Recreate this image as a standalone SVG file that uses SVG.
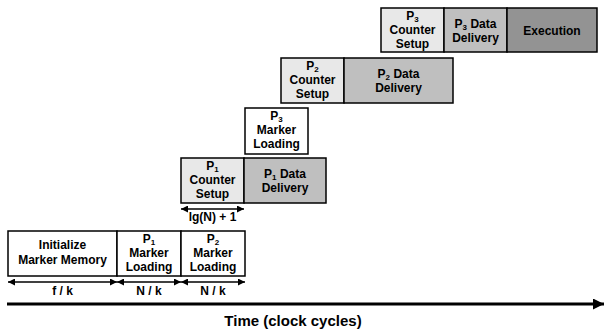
<svg xmlns="http://www.w3.org/2000/svg" width="605" height="331" viewBox="0 0 605 331">
<defs>
<style>
text{font-family:"Liberation Sans",Arial,sans-serif;font-weight:bold;font-size:12px;fill:#000;text-anchor:middle}
.b{stroke:#000;stroke-width:1.5}
.w{fill:#fff}.l{fill:#e8e8e8}.m{fill:#bfbfbf}.d{fill:#939393}
.s{font-size:8px}
.c{stroke:#000;stroke-width:1.6;fill:none}
</style>
<marker id="ah" viewBox="0 0 10 10" refX="10" refY="5" markerWidth="11" markerHeight="7" markerUnits="userSpaceOnUse" orient="auto-start-reverse"><path d="M0,0L10,5L0,10z" fill="#000"/></marker>
<marker id="big" viewBox="0 0 10 10" refX="10" refY="5" markerWidth="15" markerHeight="11" markerUnits="userSpaceOnUse" orient="auto"><path d="M0,0L10,5L0,10z" fill="#000"/></marker>
</defs>
<g id="init"><rect class="b w" x="8" y="231" width="109" height="45"/><text x="62.5" y="249">Initialize</text><text x="62.5" y="264">Marker Memory</text></g>
<g id="p1ml"><rect class="b w" x="117" y="231" width="64" height="45"/><text x="149" y="243">P<tspan class="s" dy="2">1</tspan></text><text x="149" y="257">Marker</text><text x="149" y="271">Loading</text></g>
<g id="p2ml"><rect class="b w" x="181" y="231" width="64" height="45"/><text x="213" y="243">P<tspan class="s" dy="2">2</tspan></text><text x="213" y="257">Marker</text><text x="213" y="271">Loading</text></g>
<g id="p1cs"><rect class="b l" x="181" y="158" width="63" height="45"/><text x="212.5" y="170">P<tspan class="s" dy="2">1</tspan></text><text x="212.5" y="184">Counter</text><text x="212.5" y="198">Setup</text></g>
<g id="p1dd"><rect class="b m" x="244" y="158" width="82" height="45"/><text x="285" y="178">P<tspan class="s" dy="2">1</tspan><tspan dy="-2"> Data</tspan></text><text x="285" y="192">Delivery</text></g>
<g id="p3ml"><rect class="b w" x="245" y="108" width="63" height="46"/><text x="276.5" y="120">P<tspan class="s" dy="2">3</tspan></text><text x="276.5" y="134">Marker</text><text x="276.5" y="148">Loading</text></g>
<g id="p2cs"><rect class="b l" x="281" y="58" width="63" height="45"/><text x="312.5" y="70">P<tspan class="s" dy="2">2</tspan></text><text x="312.5" y="84">Counter</text><text x="312.5" y="98">Setup</text></g>
<g id="p2dd"><rect class="b m" x="344" y="58" width="109" height="45"/><text x="398.5" y="78">P<tspan class="s" dy="2">2</tspan><tspan dy="-2"> Data</tspan></text><text x="398.5" y="92">Delivery</text></g>
<g id="p3cs"><rect class="b l" x="381" y="8" width="63" height="44"/><text x="412.5" y="20">P<tspan class="s" dy="2">3</tspan></text><text x="412.5" y="34">Counter</text><text x="412.5" y="48">Setup</text></g>
<g id="p3dd"><rect class="b m" x="444" y="8" width="63" height="44"/><text x="475.5" y="28">P<tspan class="s" dy="2">3</tspan><tspan dy="-2"> Data</tspan></text><text x="475.5" y="42">Delivery</text></g>
<g id="exec"><rect class="b d" x="507" y="8" width="90" height="44"/><text x="552" y="35">Execution</text></g>
<g id="connectors">
<line class="c" x1="8" y1="282" x2="117" y2="282" marker-start="url(#ah)" marker-end="url(#ah)"/>
<line class="c" x1="117" y1="282" x2="181" y2="282" marker-start="url(#ah)" marker-end="url(#ah)"/>
<line class="c" x1="181" y1="282" x2="245" y2="282" marker-start="url(#ah)" marker-end="url(#ah)"/>
<line class="c" x1="181" y1="209" x2="244" y2="209" marker-start="url(#ah)" marker-end="url(#ah)"/>
<line x1="7" y1="304" x2="604" y2="304" stroke="#000" stroke-width="3" marker-end="url(#big)"/>
</g>
<text x="62.5" y="295">f / k</text>
<text x="149" y="295">N / k</text>
<text x="213" y="295">N / k</text>
<text x="212.5" y="221">lg(N) + 1</text>
<text x="293" y="326" style="font-size:15px">Time (clock cycles)</text>
</svg>
